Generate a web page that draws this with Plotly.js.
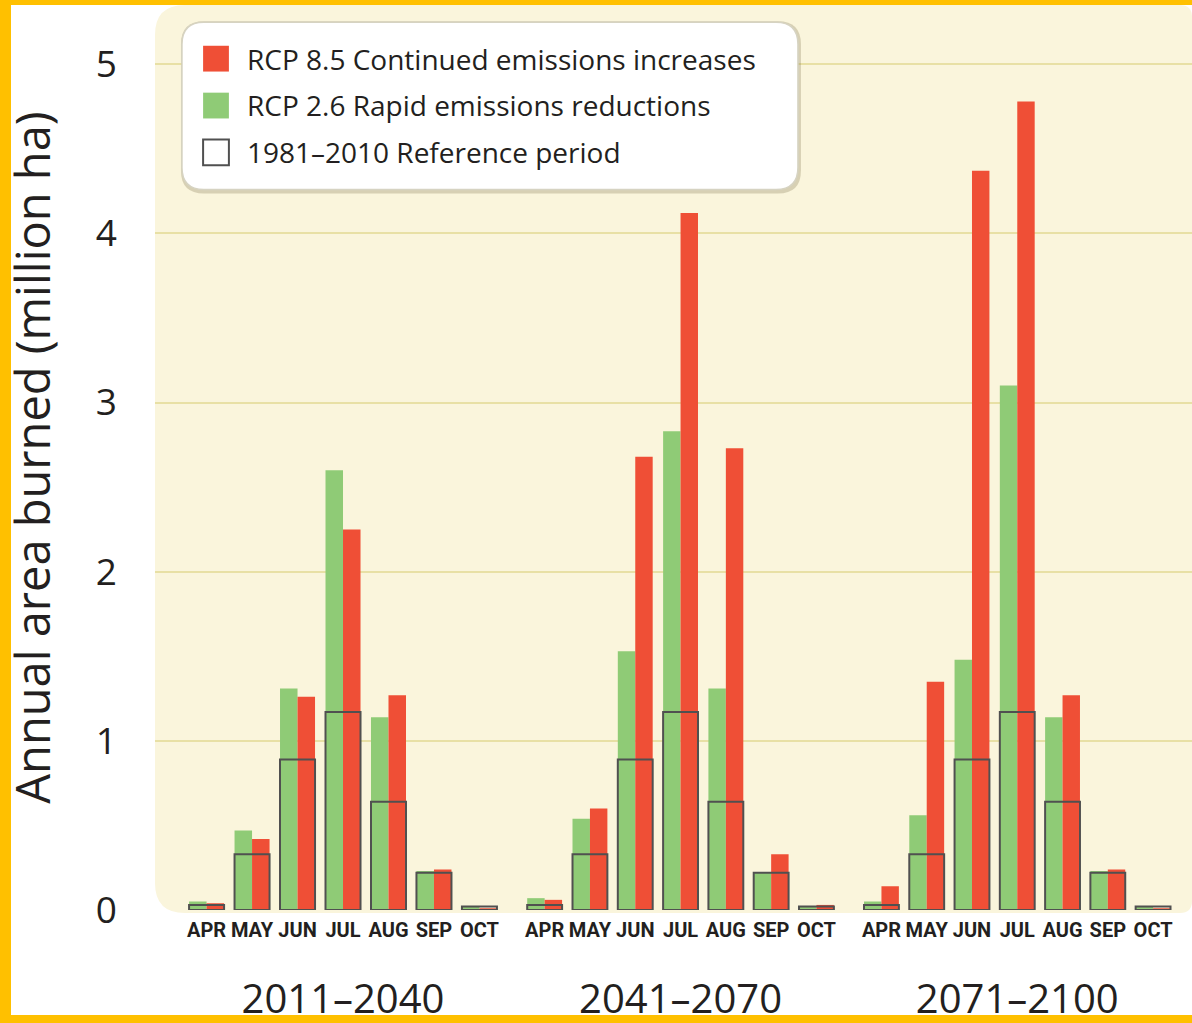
<!DOCTYPE html>
<html>
<head>
<meta charset="utf-8">
<script src="https://cdn.plot.ly/plotly-3.0.1.min.js"></script>
<style>
html,body{margin:0;padding:0;background:#ffffff;}
#frame{position:absolute;left:0;top:0;width:1192px;height:1023px;background:#ffffff;overflow:hidden;}
#chart{position:absolute;left:0;top:0;width:1192px;height:1035px;}
.bar-y{position:absolute;background:#FFC000;z-index:10;}
#chart .legend .legendpoints path{transform:translate(19px,0px) scale(2.15);vector-effect:non-scaling-stroke;}
</style>
</head>
<body>
<div id="frame">
  <div id="chart"></div>
  <div class="bar-y" style="left:0;top:0;width:11px;height:1023px;"></div>
  <div class="bar-y" style="left:0;top:0;width:1192px;height:5px;"></div>
  <div class="bar-y" style="left:0;top:1015px;width:1192px;height:8px;"></div>
</div>
<script>
// ---- data ----
const months = ['APR', 'MAY', 'JUN', 'JUL', 'AUG', 'SEP', 'OCT'];
const periods = ['2011–2040', '2041–2070', '2071–2100'];

const reference_1981_2010 = [0.03, 0.33, 0.89, 1.17, 0.64, 0.22, 0.02];

const rcp26_2011_2040 = [0.05, 0.47, 1.31, 2.60, 1.14, 0.23, 0.02];
const rcp85_2011_2040 = [0.04, 0.42, 1.26, 2.25, 1.27, 0.24, 0.01];

const rcp26_2041_2070 = [0.07, 0.54, 1.53, 2.83, 1.31, 0.22, 0.02];
const rcp85_2041_2070 = [0.06, 0.60, 2.68, 4.12, 2.73, 0.33, 0.03];

const rcp26_2071_2100 = [0.05, 0.56, 1.48, 3.10, 1.14, 0.23, 0.02];
const rcp85_2071_2100 = [0.14, 1.35, 4.37, 4.78, 1.27, 0.24, 0.01];

const rcp26_byPeriod = [rcp26_2011_2040, rcp26_2041_2070, rcp26_2071_2100];
const rcp85_byPeriod = [rcp85_2011_2040, rcp85_2041_2070, rcp85_2071_2100];

const nameRcp85 = 'RCP 8.5 Continued emissions increases';
const nameRcp26 = 'RCP 2.6 Rapid emissions reductions';
const nameRef = '1981–2010 Reference period';

// ---- styling ----
const GREEN = '#8FCB76';
const RED = '#EF4F36';
const REFLINE = '#505050';
const CREAM = '#FAF5DC';
const GRID = '#E8E0A5';
const TEXT = '#231F20';
const BARW = 0.385;

const plotW = 1037, plotH = 905;
const domains = [[0.0278, 0.3348], [0.3539, 0.6597], [0.6787, 0.9843]];

function roundPath(x0, y0, x1, y1, rl, rr) {
  const rxl = rl / plotW, ryl = rl / plotH, rxr = rr / plotW, ryr = rr / plotH;
  return `M${x0 + rxl},${y0} L${x1 - rxr},${y0} Q${x1},${y0} ${x1},${y0 + ryr} ` +
         `L${x1},${y1 - ryr} Q${x1},${y1} ${x1 - rxr},${y1} L${x0 + rxl},${y1} ` +
         `Q${x0},${y1} ${x0},${y1 - ryl} L${x0},${y0 + ryl} Q${x0},${y0} ${x0 + rxl},${y0} Z`;
}

// empty carrier trace so the full-width subplot (and its gridlines) exists
const traces = [{
  type: 'scatter', mode: 'markers', x: [], y: [], xaxis: 'x', yaxis: 'y',
  showlegend: false, hoverinfo: 'skip'
}];

periods.forEach((p, i) => {
  const xa = 'x' + (i + 2);
  traces.push({
    type: 'bar', x: months, y: rcp26_byPeriod[i], xaxis: xa, yaxis: 'y',
    name: nameRcp26, legendgroup: 'g', legendrank: 2, showlegend: i === 0,
    width: BARW, offset: -BARW,
    marker: {color: GREEN, line: {width: 0}}, hoverinfo: 'skip'
  });
  traces.push({
    type: 'bar', x: months, y: rcp85_byPeriod[i], xaxis: xa, yaxis: 'y',
    name: nameRcp85, legendgroup: 'r', legendrank: 1, showlegend: i === 0,
    width: BARW, offset: 0,
    marker: {color: RED, line: {width: 0}}, hoverinfo: 'skip'
  });
  traces.push({
    type: 'bar', x: months, y: reference_1981_2010, xaxis: xa, yaxis: 'y',
    name: nameRef, legendgroup: 'ref', legendrank: 3, showlegend: i === 0,
    width: 2 * BARW, offset: -BARW,
    marker: {color: 'rgba(0,0,0,0)', line: {width: 2, color: REFLINE}}, hoverinfo: 'skip'
  });
});

const layout = {
  width: 1192, height: 1035,
  margin: {l: 155, r: 0, t: 5, b: 125},
  paper_bgcolor: '#ffffff',
  plot_bgcolor: 'rgba(0,0,0,0)',
  barmode: 'overlay',
  font: {family: 'Open Sans, sans-serif', color: TEXT},
  showlegend: true,
  legend: {
    x: 0.0405, y: 0.968, xanchor: 'left', yanchor: 'top',
    bgcolor: 'rgba(0,0,0,0)', borderwidth: 0, itemwidth: 40,
    font: {family: 'Open Sans, sans-serif', size: 28, color: TEXT},
    traceorder: 'grouped', tracegroupgap: 7.5
  },
  xaxis: {domain: [0, 1], range: [0, 1], visible: false, fixedrange: true},
  yaxis: {
    range: [0, 5.35], tickvals: [0, 1, 2, 3, 4, 5], ticktext: ['0', '1', '2', '3', '4', '5'],
    showgrid: true, gridcolor: GRID, gridwidth: 2, zeroline: false, showline: false,
    ticks: '', tickfont: {size: 37, color: TEXT}, ticklabelstandoff: 37,
    title: {text: 'Annual area burned (million ha)', font: {size: 47, color: TEXT}, standoff: 67},
    automargin: false, fixedrange: true
  },
  shapes: [
    {type: 'path', xref: 'paper', yref: 'paper', layer: 'below',
     path: roundPath(0, -3 / plotH, 1, 1, 30, 12),
     fillcolor: CREAM, line: {width: 0}},
    {type: 'path', xref: 'paper', yref: 'paper', layer: 'above',
     path: roundPath(0.026 - 1 / plotW, 0.796 - 4 / plotH, 0.620 + 3 / plotW, 0.981 + 1 / plotH, 23, 23),
     fillcolor: 'rgba(110,100,60,0.25)', line: {width: 0}},
    {type: 'path', xref: 'paper', yref: 'paper', layer: 'above',
     path: roundPath(0.026, 0.796, 0.620, 0.981, 22, 22),
     fillcolor: '#ffffff', line: {width: 1.5, color: '#D6D3C2'}}
  ]
};

periods.forEach((p, i) => {
  layout['xaxis' + (i + 2)] = {
    domain: domains[i], anchor: 'y', type: 'category',
    categoryorder: 'array', categoryarray: months, range: [-0.5, 6.5],
    showgrid: false, zeroline: false, showline: false, ticks: '', tickangle: 0,
    tickfont: {family: 'Roboto, sans-serif', size: 20, weight: 'bold', color: TEXT},
    ticklabelstandoff: 6,
    title: {text: p, font: {family: 'Open Sans, sans-serif', size: 40, color: TEXT}, standoff: 43},
    automargin: false, fixedrange: true
  };
});

Plotly.newPlot('chart', traces, layout, {staticPlot: true, displayModeBar: false});
</script>
</body>
</html>
